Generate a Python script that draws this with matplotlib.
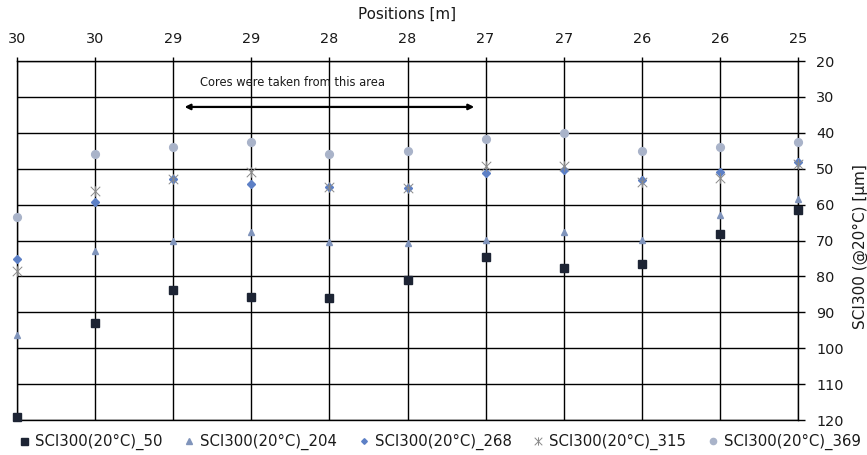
import matplotlib
matplotlib.use("Agg")
import matplotlib.pyplot as plt
from matplotlib.path import Path
import numpy as np

plt.rcParams['font.family'] = ['DejaVu Sans']

positions = ["30", "30", "29", "29", "28", "28", "27", "27", "26", "26", "25"]
sci_50 = [119.1, 93.0, 83.8, 85.7, 85.9, 81.0, 74.5, 77.6, 76.5, 68.2, 61.5]
sci_204 = [96.3, 73.0, 70.2, 67.7, 70.4, 70.6, 69.8, 67.7, 69.8, 62.9, 58.4]
sci_268 = [75.2, 59.2, 53.0, 54.3, 55.0, 55.5, 51.2, 50.4, 53.2, 51.0, 48.0]
sci_315 = [78.5, 56.2, 53.0, 51.0, 55.0, 55.3, 49.2, 49.3, 53.8, 52.7, 48.7]
sci_369 = [63.4, 46.0, 43.9, 42.7, 45.8, 45.1, 41.7, 40.1, 45.0, 44.0, 42.6]
y_ticks = [20, 30, 40, 50, 60, 70, 80, 90, 100, 110, 120]

# Excel-style "star" marker: an x with a vertical stroke
star_marker = Path([(-1, -1), (1, 1), (-1, 1), (1, -1), (0, -1.1), (0, 1.1)],
                   [Path.MOVETO, Path.LINETO, Path.MOVETO, Path.LINETO, Path.MOVETO, Path.LINETO])

fig = plt.figure(figsize=(8.67, 4.55), dpi=100)
ax = fig.add_axes([17/867, 1-420/455, (798-17)/867, (420-61)/455])

x = np.arange(len(positions))
ax.plot(x, sci_50, linestyle='none', marker='s', markersize=6.3, color='#1d2434',
        label='SCI300(20°C)_50', zorder=5, clip_on=False)
ax.plot(x, sci_204, linestyle='none', marker='^', markersize=5, color='#8094bb',
        label='SCI300(20°C)_204', zorder=5, clip_on=False)
ax.plot(x, sci_268, linestyle='none', marker='D', markersize=3.6, color='#5d80c6',
        label='SCI300(20°C)_268', zorder=6, clip_on=False)
ax.plot(x, sci_315, linestyle='none', marker=star_marker, markersize=7.5, markeredgewidth=0.7,
        color='#8a8a8a', markerfacecolor='none',
        label='SCI300(20°C)_315', zorder=6, clip_on=False)
ax.plot(x, sci_369, linestyle='none', marker='o', markersize=5.6, color='#a9b3c9',
        label='SCI300(20°C)_369', zorder=4, clip_on=False)

ax.set_xlim(0, len(positions) - 1)
ax.set_ylim(120, 20)
ax.set_xticks(x)
ax.set_xticklabels(positions)
ax.set_yticks(y_ticks)
ax.xaxis.tick_top()
ax.yaxis.tick_right()
ax.tick_params(axis='x', direction='out', length=3, width=1, color='black', labelsize=10.4, pad=7.5,
               labelcolor='#1a1a1a')
ax.tick_params(axis='y', direction='out', length=5, width=1, color='black', labelsize=10.4, pad=8,
               labelcolor='#1a1a1a')
ax.grid(True, color='black', linewidth=1)
ax.set_axisbelow(True)
for s in ax.spines.values():
    s.set_color('black')
    s.set_linewidth(1)

fig.text(407/867, 1-14/455, 'Positions [m]', fontsize=10.9, ha='center', va='center', color='#1a1a1a')
fig.text(860/867, 1-247/455, 'SCI300 (@20°C) [µm]', fontsize=11, ha='center', va='center',
         rotation=90, color='#1a1a1a')

ax.annotate('', xy=(2.11, 32.8), xytext=(5.89, 32.8),
            arrowprops=dict(arrowstyle='<|-|>', color='black', lw=1.6, mutation_scale=8))
ax.text(3.53, 26.1, 'Cores were taken from this area', fontsize=8.3, ha='center', va='center',
        color='#1a1a1a')

leg = fig.legend(loc='center', bbox_to_anchor=(0.506, 0.028), ncol=5, frameon=False,
                 fontsize=10.75, handletextpad=0.23, columnspacing=1.3, markerscale=0.8, handlelength=1.0,
                 borderpad=0, borderaxespad=0)
for t in leg.get_texts():
    t.set_color('#1a1a1a')

fig.savefig('out.png', dpi=100)
